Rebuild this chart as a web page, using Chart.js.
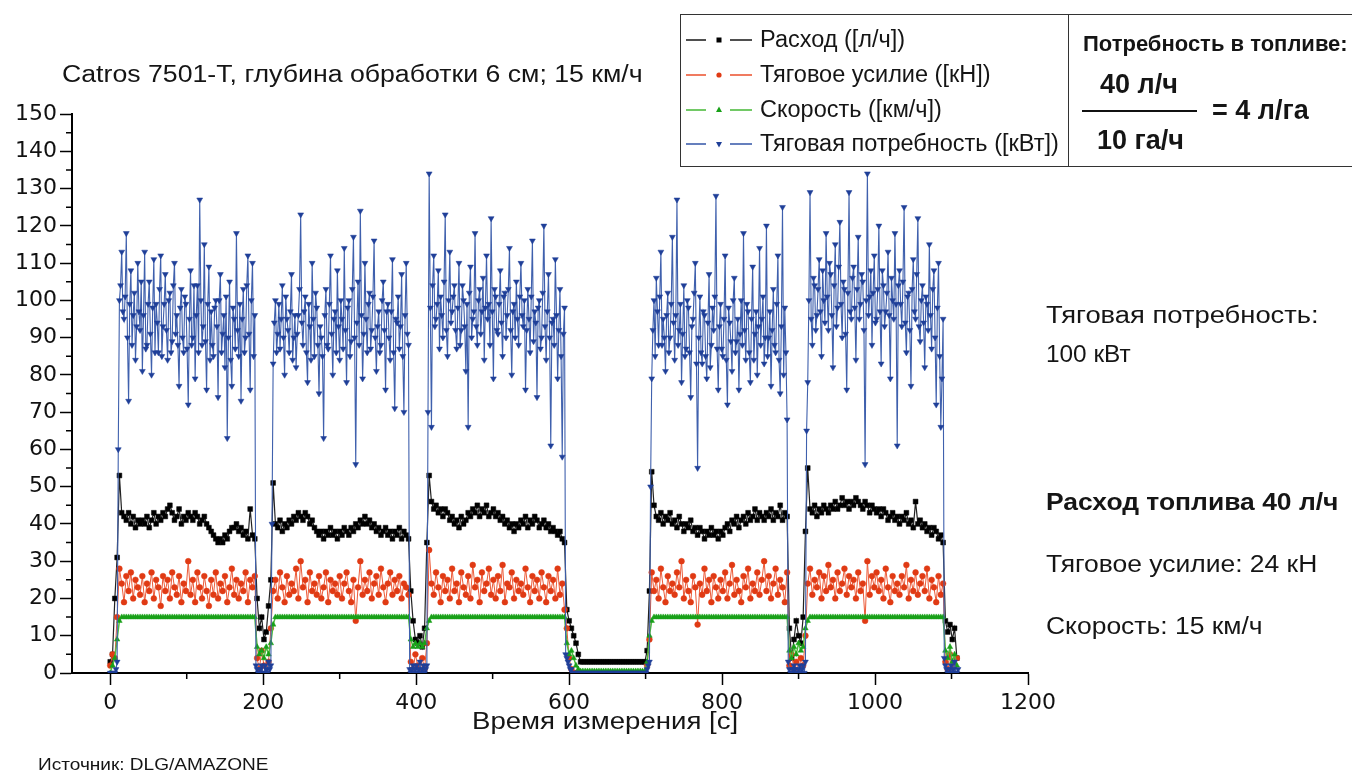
<!DOCTYPE html>
<html lang="ru">
<head>
<meta charset="utf-8">
<script src="https://cdn.jsdelivr.net/npm/chart.js@4.4.1/dist/chart.umd.min.js"></script>
<style>
  html, body { margin: 0; padding: 0; background: #fff; }
  #wrap { position: relative; width: 1352px; height: 776px; overflow: hidden; font-family: 'Liberation Sans', Arial, sans-serif; color: #151515; }
  #chartBox { position: absolute; left: 0; top: 0; width: 1352px; height: 776px; }
  .t { position: absolute; white-space: nowrap; line-height: 1; transform-origin: left center; }
  .b { font-weight: bold; }
  #legendBox { position: absolute; left: 680px; top: 14px; width: 700px; height: 151px; border-top: 1.5px solid #333; border-bottom: 1.5px solid #333; border-left: 1.5px solid #333; }
  #divider { position: absolute; left: 1068px; top: 14px; width: 0; height: 153px; border-left: 1.5px solid #333; }
  #fracLine { position: absolute; left: 1082px; top: 110px; width: 115px; height: 0; border-top: 2px solid #111; }
  .lg { position: absolute; left: 686px; height: 24px; display: flex; align-items: center; }
  .lg svg { display: block; }
  .lg span { margin-left: 8px; font-size: 23.5px; line-height: 1; white-space: nowrap; display: inline-block; }
</style>
</head>
<body>
<div id="wrap">
  <div id="chartBox"><canvas id="chart"></canvas></div>
  <div class="t" style="left:62px;top:63px;font-size:23px;transform:scaleX(1.16);">Catros 7501-T, глубина обработки 6 см; 15 км/ч</div>
  <div id="legendBox"></div>
  <div id="divider"></div>
  <div id="legendRows"></div>
  <div class="t b" style="left:1083px;top:33px;font-size:22px;">Потребность в топливе:</div>
  <div class="t b" style="left:1100px;top:71px;font-size:27px;">40 л/ч</div>
  <div id="fracLine"></div>
  <div class="t b" style="left:1212px;top:97px;font-size:27px;">= 4 л/га</div>
  <div class="t b" style="left:1097px;top:127px;font-size:27px;">10 га/ч</div>
  <div class="t" style="left:1046px;top:304px;font-size:23px;transform:scaleX(1.19);">Тяговая потребность:</div>
  <div class="t" style="left:1046px;top:343px;font-size:23px;transform:scaleX(1.06);">100 кВт</div>
  <div class="t b" style="left:1046px;top:491px;font-size:23px;transform:scaleX(1.15);">Расход топлива 40 л/ч</div>
  <div class="t" style="left:1046px;top:553px;font-size:23px;transform:scaleX(1.15);">Тяговое усилие: 24 кН</div>
  <div class="t" style="left:1046px;top:615px;font-size:23px;transform:scaleX(1.15);">Скорость: 15 км/ч</div>
  <div class="t" style="left:472px;top:710px;font-size:23px;transform:scaleX(1.2);">Время измерения [c]</div>
  <div class="t" style="left:38px;top:757px;font-size:16px;transform:scaleX(1.19);">Источник: DLG/AMAZONE</div>
</div>
<script>
// ---- Data ----
const SAMPLE_INTERVAL_S = 3;       // fuel rate, traction force, speed
const POWER_INTERVAL_S = 1.5;      // traction power

const seriesLabels = ['Расход ([л/ч])', 'Тяговое усилие ([кН])', 'Скорость ([км/ч])', 'Тяговая потребность ([кВт])'];

// Расход [л/ч]
const fuelRate = [
  3,5,20,31,
  53,43,42,41,43,40,42,39,41,40, 41,40,42,39,41,43,40,42,41,43, 42,44,45,43,41,42,44,40,42,41, 43,42,41,43,42,40,41,42,40,39, 38,37,36,35,36,35,37,36,38,39, 39,40,38,39,37,38,36,44,37,36,
  20,12,15,9,11,18,25,
  51,40,39,41,38,40,39,41,40,42, 41,43,42,41,43,42,40,41,39,38, 37,38,36,38,37,39,37,38,36,38, 37,39,38,37,39,38,40,39,41,40, 42,40,41,39,40,38,39,37,38,39, 37,38,36,38,37,39,36,38,37,36,
  22,14,9,8,10,7,12,35,
  53,46,44,45,43,44,42,44,43,41, 42,40,41,39,42,40,41,43,42,44, 43,45,42,44,43,45,42,43,44,42, 43,41,42,40,41,39,40,38,40,39, 41,40,42,39,41,40,42,41,39,40, 41,39,40,38,39,38,37,38,36,35,
  17,14,12,10,8,5,3, 3,3,3,3,3,3,3,3,3,3, 3,3,3,3,3,3,3,3,3,3, 3,3,3,3,3,3,3,3, 6,22,
  54,45,42,41,43,40,42,41,43,40, 41,39,42,40,38,40,39,41,38,39, 37,39,38,36,38,37,39,37,38,36, 38,37,39,40,38,41,40,42,39,41, 42,40,43,41,42,44,41,43,42,41, 43,42,44,41,43,42,45,41,43,42,
  12,4,9,14,10,8,15,38,
  55,44,43,45,42,44,43,45,44,43, 45,44,46,44,45,47,45,46,44,46, 45,47,46,45,44,46,45,43,45,44, 43,44,42,44,43,41,42,43,41,42, 40,42,41,43,40,41,39,46,40,41, 39,40,38,39,37,39,38,36,37,35,
  14,11,13,9,12,4
];

// Тяговое усилие [кН]
const tractionForce = [
  2,5,4,15,
  28,24,19,26,22,27,20,25,23,21, 26,19,24,22,27,20,25,23,18,26, 22,25,20,27,23,21,26,19,24,22, 30,21,25,19,27,23,20,26,22,18, 25,21,27,20,24,22,26,19,23,28, 21,25,20,24,22,27,19,25,23,26,
  4,1,6,2,0,3,12,
  22,25,20,27,23,19,26,21,24,22, 28,20,30,23,25,19,27,22,24,21, 26,20,23,27,19,25,22,24,21,26, 20,24,27,22,19,25,14,23,30,21, 25,22,27,20,24,26,21,28,23,19, 24,27,21,25,22,26,20,24,23,21,
  3,1,5,2,0,4,1,8,
  33,24,21,27,23,19,26,22,25,20, 28,22,24,19,27,23,21,26,20,29, 23,25,19,27,22,24,28,21,25,20, 26,22,29,19,24,23,27,20,25,22, 24,21,28,23,19,26,22,25,20,27, 23,19,26,22,25,20,28,21,24,17,
  12,4,1, 0,0,0,0,0,0,0,0,0,0, 0,0,0,0,0,0,0,0,0,0, 0,0,0,0,0,0,0,0,0,0, 0,0, 2,9,
  27,22,25,20,28,23,19,26,22,24, 21,27,23,30,20,25,22,19,26,23, 13,24,21,28,22,25,19,26,23,20, 25,22,27,20,24,29,21,25,22,19, 26,23,28,20,24,22,27,21,25,30, 22,26,20,24,28,21,25,23,19,27,
  2,5,1,3,0,4,2,10,
  24,28,21,25,23,27,20,26,22,29, 23,25,20,27,22,24,28,21,26,23, 25,20,27,22,24,14,30,21,26,23, 27,22,25,20,28,23,19,26,22,24, 21,26,23,29,20,25,22,27,21,24, 26,22,28,20,25,23,19,26,21,24,
  3,1,5,0,2,4
];

// Скорость [км/ч]
const speed = [
  0,2,4,9,
  14,15,15,15,15,15,15,15,15,15, 15,15,15,15,15,15,15,15,15,15, 15,15,15,15,15,15,15,15,15,15, 15,15,15,15,15,15,15,15,15,15, 15,15,15,15,15,15,15,15,15,15, 15,15,15,15,15,15,15,15,15,15,
  7,5,6,4,7,5,8,
  13,15,15,15,15,15,15,15,15,15, 15,15,15,15,15,15,15,15,15,15, 15,15,15,15,15,15,15,15,15,15, 15,15,15,15,15,15,15,15,15,15, 15,15,15,15,15,15,15,15,15,15, 15,15,15,15,15,15,15,15,15,15,
  9,7,8,7,8,7,8,12,
  14,15,15,15,15,15,15,15,15,15, 15,15,15,15,15,15,15,15,15,15, 15,15,15,15,15,15,15,15,15,15, 15,15,15,15,15,15,15,15,15,15, 15,15,15,15,15,15,15,15,15,15, 15,15,15,15,15,15,15,15,15,15,
  8,5,6,4,2,1, 0.5,0.5,0.5,0.5,0.5,0.5,0.5,0.5,0.5,0.5, 0.5,0.5,0.5,0.5,0.5,0.5,0.5,0.5,0.5,0.5, 0.5,0.5,0.5,0.5,0.5,0.5,0.5,0.5,0.5, 3,10,
  14,15,15,15,15,15,15,15,15,15, 15,15,15,15,15,15,15,15,15,15, 15,15,15,15,15,15,15,15,15,15, 15,15,15,15,15,15,15,15,15,15, 15,15,15,15,15,15,15,15,15,15, 15,15,15,15,15,15,15,15,15,15,
  6,4,7,5,8,6,7,12,
  14,15,15,15,15,15,15,15,15,15, 15,15,15,15,15,15,15,15,15,15, 15,15,15,15,15,15,15,15,15,15, 15,15,15,15,15,15,15,15,15,15, 15,15,15,15,15,15,15,15,15,15, 15,15,15,15,15,15,15,15,15,15,
  6,4,7,3,5,2
];

// Тяговая потребность [кВт] (one sample every 1.5 s)
const tractionPower = [
  0,0,0,0,0,1,3,60,
  100,104,113,97,95,101,118,90,73,99,108,88,96,102,84,93,110,97,92,105,
  81,96,113,87,88,99,105,91,80,98,111,86,99,94,86,103,112,85,93,99,
  107,92,84,100,102,86,89,104,110,91,96,88,77,98,103,90,86,101,99,87,
  72,95,108,88,90,104,79,96,104,86,127,100,88,93,115,89,76,99,109,84,
  97,88,85,98,100,93,74,100,107,86,91,96,82,101,63,90,105,84,77,98,
  95,87,118,92,85,99,73,95,103,86,90,104,112,91,76,100,110,85,96,2,
  1,0,0,1,2,0,0,2,1,0,3,1,2,40,
  83,94,100,86,91,99,87,95,104,90,80,101,95,92,86,97,107,84,90,96,
  82,91,96,103,123,94,88,97,101,86,78,99,93,84,110,95,85,102,98,88,
  75,93,90,85,63,96,103,88,87,99,112,91,80,95,97,86,108,93,84,100,
  95,87,114,92,78,98,100,85,89,103,117,90,56,94,105,88,124,96,79,91,
  110,95,86,99,102,87,92,101,116,90,81,93,97,86,88,100,105,92,76,97,
  99,90,84,97,111,86,71,95,94,101,87,93,107,85,70,96,110,91,88,1,
  0,1,2,0,1,2,0,1,3,0,1,2,0,1,2,70,
  134,98,66,104,112,93,95,99,108,87,101,96,90,105,123,92,85,100,113,94,
  97,101,104,92,87,98,110,88,92,104,100,93,81,99,66,102,109,90,95,97,
  118,93,88,100,103,91,97,106,84,98,112,95,99,88,122,97,79,103,101,92,
  91,99,108,94,85,101,102,90,96,103,114,92,80,97,99,90,105,95,88,101,
  110,96,93,100,76,92,103,95,86,101,116,89,97,94,74,98,100,87,90,102,
  120,93,84,97,107,90,61,94,95,88,111,96,79,92,103,85,58,91,98,5,
  4,3,2,1,1,0, 0,0,0,0,0,0,0,0,0,0, 0,0,0,0,0,0,0,0,0,0, 0,0,0,0,0,0,0,0,0,0, 0,0,0,0,0,0,0,0,0,0, 0,0,0,0,0,0,0,0,0,0, 0,0,0,0,0,0,0,0,0,0, 0,0,0,0, 1,2,3,50,
  79,92,100,85,106,97,88,101,113,88,95,90,81,96,102,86,90,99,117,94,
  84,96,127,88,92,99,78,91,104,85,87,100,98,86,74,93,95,102,110,83,
  55,90,101,86,83,97,96,85,79,94,107,82,88,98,92,101,128,87,76,93,
  99,87,85,95,112,84,72,98,94,89,81,100,106,86,89,95,76,91,100,88,
  118,92,84,99,97,86,78,95,109,84,91,97,80,93,114,88,95,101,83,90,
  120,85,90,97,77,92,103,88,86,99,112,84,75,93,125,80,98,86,68,3,
  1,0,0,1,2,1,0,0,1,2,0,1,2,0,3,65,
  78,100,129,95,88,106,104,92,96,103,111,97,85,108,100,94,118,101,92,110,
  107,96,82,104,115,93,98,109,121,99,90,105,103,91,76,102,129,97,95,106,
  109,98,84,103,117,95,99,107,105,92,56,100,134,96,101,108,88,102,112,94,
  95,103,120,97,83,108,104,93,97,102,113,96,79,106,100,95,118,99,61,104,
  108,99,93,105,125,94,86,101,102,92,77,103,111,97,95,107,122,93,89,100,
  104,94,82,101,99,92,115,96,87,103,108,90,72,98,110,85,66,79,95,4,
  2,1,0,0,1,2,0,1,3,0,0,1
];

// Measurement time axes [c] (categories)
const measurementTimes = fuelRate.map((_, i) => i * SAMPLE_INTERVAL_S);
const powerTimes = tractionPower.map((_, i) => i * POWER_INTERVAL_S);

// Tick labels
const xMajorTicks = [0, 200, 400, 600, 800, 1000, 1200];
const xMinorTicks = [100, 300, 500, 700, 900, 1100];
const yMajorTicks = [0, 10, 20, 30, 40, 50, 60, 70, 80, 90, 100, 110, 120, 130, 140, 150];
const yMinorTicks = [5, 15, 25, 35, 45, 55, 65, 75, 85, 95, 105, 115, 125, 135, 145];

const toPoints = (times, arr) => arr.map((v, i) => ({ x: times[i], y: v }));

const styles = [
  { line: '#222222', marker: '#000000', shape: 'rect', r: 3.4, rot: 0, order: 4, lw: 1.2 },
  { line: '#ec5a38', marker: '#e03a14', shape: 'circle', r: 2.9, rot: 0, order: 3, lw: 1 },
  { line: '#4fbc40', marker: '#18a018', shape: 'triangle', r: 3.2, rot: 0, order: 2, lw: 1.5 },
  { line: '#3f60ad', marker: '#1f3f98', shape: 'triangle', r: 3.4, rot: 180, order: 1, lw: 1.1 }
];
const seriesValues = [fuelRate, tractionForce, speed, tractionPower];
const seriesTimes = [measurementTimes, measurementTimes, measurementTimes, powerTimes];

const datasets = seriesValues.map((vals, k) => ({
  label: seriesLabels[k],
  data: toPoints(seriesTimes[k], vals),
  borderColor: styles[k].line,
  borderWidth: styles[k].lw,
  backgroundColor: styles[k].marker,
  pointBackgroundColor: styles[k].marker,
  pointBorderColor: styles[k].marker,
  pointBorderWidth: 0.5,
  pointStyle: styles[k].shape,
  pointRadius: styles[k].r,
  pointRotation: styles[k].rot,
  tension: 0,
  order: styles[k].order
}));

const minorTickPlugin = {
  id: 'minorTicks',
  afterDraw(chart) {
    const { ctx, scales: { x, y } } = chart;
    ctx.save();
    ctx.strokeStyle = '#000';
    ctx.lineWidth = 1.5;
    ctx.beginPath();
    xMinorTicks.forEach(v => { const px = x.getPixelForValue(v); ctx.moveTo(px, x.top); ctx.lineTo(px, x.top + 6); });
    yMinorTicks.forEach(v => { const py = y.getPixelForValue(v); ctx.moveTo(y.right, py); ctx.lineTo(y.right - 6, py); });
    ctx.stroke();
    ctx.restore();
  }
};

const tickFont = { family: "'DejaVu Sans', 'Liberation Sans', sans-serif", size: 22 };

const chart = new Chart(document.getElementById('chart'), {
  type: 'line',
  data: { datasets },
  plugins: [minorTickPlugin],
  options: {
    responsive: true,
    maintainAspectRatio: false,
    animation: false,
    events: [],
    layout: { padding: { left: 0, top: 114, right: 324, bottom: 0 } },
    plugins: { legend: { display: false }, tooltip: { enabled: false }, title: { display: false } },
    scales: {
      x: {
        type: 'linear',
        min: -50,
        max: 1200,
        afterBuildTicks: s => { s.ticks = xMajorTicks.map(value => ({ value })); },
        afterFit: s => { s.height = 103; },
        grid: { drawOnChartArea: false, drawTicks: true, tickLength: 12, tickColor: '#000', tickWidth: 1.5 },
        border: { display: true, color: '#000', width: 2 },
        ticks: { color: '#111', font: tickFont, padding: 5, autoSkip: false, maxRotation: 0, callback: v => String(v) }
      },
      y: {
        min: 0,
        max: 150,
        afterBuildTicks: s => { s.ticks = yMajorTicks.map(value => ({ value })); },
        afterFit: s => { s.width = 72; },
        grid: { drawOnChartArea: false, drawTicks: true, tickLength: 12, tickColor: '#000', tickWidth: 1.5 },
        border: { display: true, color: '#000', width: 2 },
        ticks: { color: '#111', font: tickFont, padding: 3, autoSkip: false, callback: v => String(v) }
      }
    }
  }
});

// HTML legend built from the chart's datasets
(function buildLegend() {
  const host = document.getElementById('legendRows');
  const rowCenters = [40, 75, 110, 144];
  chart.data.datasets.forEach((ds, k) => {
    const st = styles[k];
    const row = document.createElement('div');
    row.className = 'lg';
    row.style.top = (rowCenters[k] - 12) + 'px';
    let marker;
    if (st.shape === 'rect') marker = '<rect x="30.5" y="4.5" width="5" height="5" fill="' + st.marker + '"/>';
    else if (st.shape === 'circle') marker = '<circle cx="33" cy="7" r="2.6" fill="' + st.marker + '"/>';
    else if (st.rot === 0) marker = '<polygon points="33,3.5 36,9 30,9" fill="' + st.marker + '"/>';
    else marker = '<polygon points="30,5 36,5 33,10.5" fill="' + st.marker + '"/>';
    row.innerHTML = '<svg width="66" height="14" viewBox="0 0 66 14"><line x1="0" y1="7" x2="20" y2="7" stroke="' + st.line + '" stroke-width="1.6"/>' + marker +
      '<line x1="44" y1="7" x2="66" y2="7" stroke="' + st.line + '" stroke-width="1.6"/></svg><span>' + ds.label + '</span>';
    host.appendChild(row);
  });
})();
</script>
</body>
</html>
